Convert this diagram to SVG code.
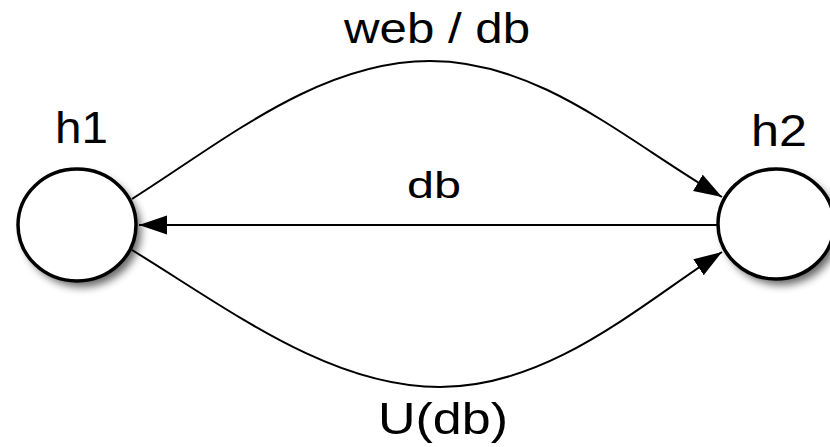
<svg xmlns="http://www.w3.org/2000/svg" width="830" height="447" viewBox="0 0 830 447">
  <style>
    .node { fill: #ffffff; stroke: #000000; stroke-width: 3.5; }
    .shadow { fill: #000000; opacity: 0.6; filter: url(#blur); }
    .edge { fill: none; stroke: #000000; stroke-width: 2; }
    .label { font-family: "Liberation Sans", Arial, Helvetica, sans-serif; fill: #000000; }
  </style>
  <defs>
    <filter id="blur" x="-30%" y="-30%" width="160%" height="160%">
      <feGaussianBlur stdDeviation="4"/>
    </filter>
    <marker id="arrow" markerUnits="userSpaceOnUse" markerWidth="30" markerHeight="20" refX="28" refY="9.5" orient="auto" viewBox="0 0 30 20">
      <path d="M0,0 L28,9.5 L0,19 Z" fill="#000000"/>
    </marker>
  </defs>

  <g id="connectors">
    <path id="edge-web-db" class="edge" d="M132,199 C225,140 320,61 430,61 C540,61 625,140 722,197" marker-end="url(#arrow)"/>
    <path id="edge-db" class="edge" d="M718,225 L139,225" marker-end="url(#arrow)"/>
    <path id="edge-udb" class="edge" d="M132,250 C230,310 330,387 440,387 C550,387 640,305 722,252" marker-end="url(#arrow)"/>
    <text class="label" x="344" y="43" font-size="43" textLength="186" lengthAdjust="spacingAndGlyphs">web / db</text>
    <text class="label" x="407" y="198" font-size="37" textLength="54" lengthAdjust="spacingAndGlyphs">db</text>
    <text class="label" x="378" y="434" font-size="45" textLength="130" lengthAdjust="spacingAndGlyphs">U(db)</text>
  </g>

  <g id="h1">
    <ellipse class="shadow" cx="82" cy="231" rx="59" ry="56"/>
    <ellipse class="node" cx="77" cy="225" rx="59" ry="56"/>
    <text class="label" x="55" y="143" font-size="45" textLength="53" lengthAdjust="spacingAndGlyphs">h1</text>
  </g>

  <g id="h2">
    <ellipse class="shadow" cx="781" cy="230" rx="58" ry="55"/>
    <ellipse class="node" cx="776" cy="224" rx="58" ry="55"/>
    <text class="label" x="751" y="146" font-size="45" textLength="56" lengthAdjust="spacingAndGlyphs">h2</text>
  </g>
</svg>
